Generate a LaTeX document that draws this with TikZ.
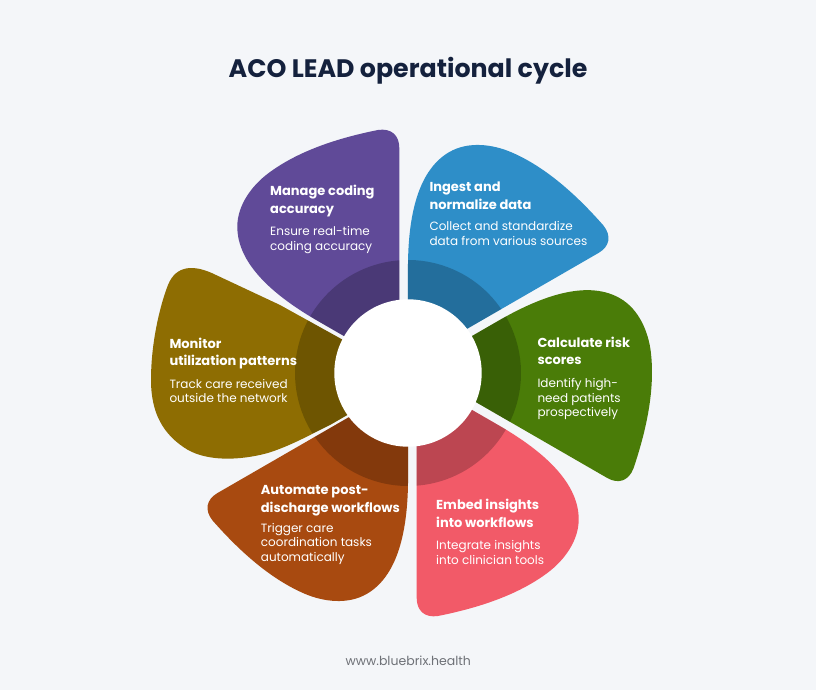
\documentclass[tikz,border=0pt]{standalone}
\usepackage{fontspec}
\newfontfamily\pops{Poppins}
\begin{document}
\begin{tikzpicture}[x=1pt,y=1pt]
\definecolor{bgcol}{HTML}{F4F6F9}
\definecolor{navy}{HTML}{14213D}
\definecolor{footgray}{HTML}{6E7177}
\definecolor{purp}{HTML}{604A98}
\definecolor{blu}{HTML}{2E8EC8}
\definecolor{grn}{HTML}{4A7C08}
\definecolor{redp}{HTML}{F25A68}
\definecolor{org}{HTML}{A84A10}
\definecolor{olv}{HTML}{8E6D02}
\tikzset{
  hd/.style={anchor=base west, inner sep=0pt, text=white,
    font=\pops\bfseries\fontsize{13}{17.7}\selectfont},
  ds/.style={anchor=base west, inner sep=0pt, text=white,
    font=\pops\fontsize{12}{14.5}\selectfont},
}
% generic petal (purple orientation, centre at origin, y up)
\newcommand{\petalpath}{(-8.7,5) -- (-8.7,225)
  .. controls (-8.7,238) and (-17,245) .. (-30,243)
  .. controls (-70,235) and (-109.7,222.2) .. (-139.7,199.7)
  .. controls (-155.7,187.7) and (-170.7,168.3) .. (-170.7,146.3)
  .. controls (-170.7,111.3) and (-138.6,80) .. (-91,52.5) -- cycle}
% olive petal (drawn in place, centre at origin, y up)
\newcommand{\olivepath}{(-30,-24.3) -- (-40,19.2) -- (-128,68) -- (-192,98)
  .. controls (-214,109) and (-232,108) .. (-240,88)
  .. controls (-246,73) and (-257,35) .. (-257,-7)
  .. controls (-257,-40) and (-245,-62) .. (-220,-77)
  .. controls (-200,-88) and (-170,-88) .. (-140,-80)
  .. controls (-115,-72) and (-95,-60) .. (-78,-52) -- cycle}
\useasboundingbox (0,0) rectangle (816,690);
\fill[bgcol] (0,0) rectangle (816,690);
\foreach \r/\c in {0/purp,-60/blu,-120/grn,-180/redp,-240/org}{
  \begin{scope}[shift={(408,317)}, rotate=\r]
    \fill[\c] \petalpath;
    \begin{scope}
      \clip \petalpath;
      \fill[black, fill opacity=0.22] (0,0) circle[radius=113];
    \end{scope}
  \end{scope}
}
\begin{scope}[shift={(408,317)}]
  \fill[olv] \olivepath;
  \begin{scope}
    \clip \olivepath;
    \fill[black, fill opacity=0.22] (0,0) circle[radius=113];
  \end{scope}
\end{scope}
\fill[white] (408,317) circle[radius=73.7];
% title and footer
\node[anchor=base, inner sep=0pt, text=navy,
  font=\pops\bfseries\fontsize{25.3}{30}\selectfont] (title) at (408,612.7)
  {ACO LEAD operational cycle};
\node[anchor=base, inner sep=0pt, text=footgray,
  font=\pops\fontsize{12.5}{15}\selectfont] (footer) at (408.3,24)
  {www.bluebrix.health};
% purple
\node[hd] (h1) at (270,494) {\parbox[t]{200pt}{Manage coding\\accuracy}};
\node[ds] (d1) at (270,454.3) {\parbox[t]{200pt}{Ensure real-time\\coding accuracy}};
% blue
\node[hd] (h2) at (429.3,498.3) {\parbox[t]{200pt}{Ingest and\\normalize data}};
\node[ds] (d2) at (429.3,459) {\parbox[t]{200pt}{Collect and standardize\\data from various sources}};
% green
\node[hd] (h3) at (537.3,342.7) {\parbox[t]{200pt}{Calculate risk\\scores}};
\node[ds] (d3) at (537.3,302.3) {\parbox[t]{200pt}{Identify high-\\need patients\\prospectively}};
% red
\node[hd] (h4) at (436,180) {\parbox[t]{200pt}{Embed insights\\into workflows}};
\node[ds] (d4) at (436,140) {\parbox[t]{200pt}{Integrate insights\\into clinician tools}};
% orange
\node[hd] (h5) at (260.7,195) {\parbox[t]{200pt}{Automate post-\\discharge workflows}};
\node[ds] (d5) at (260.7,157.7) {\parbox[t]{200pt}{Trigger care\\coordination tasks\\automatically}};
% olive
\node[hd] (h6) at (169.3,341.7) {\parbox[t]{200pt}{Monitor\\utilization patterns}};
\node[ds] (d6) at (169.3,301.7) {\parbox[t]{200pt}{Track care received\\outside the network}};
\end{tikzpicture}
\end{document}
